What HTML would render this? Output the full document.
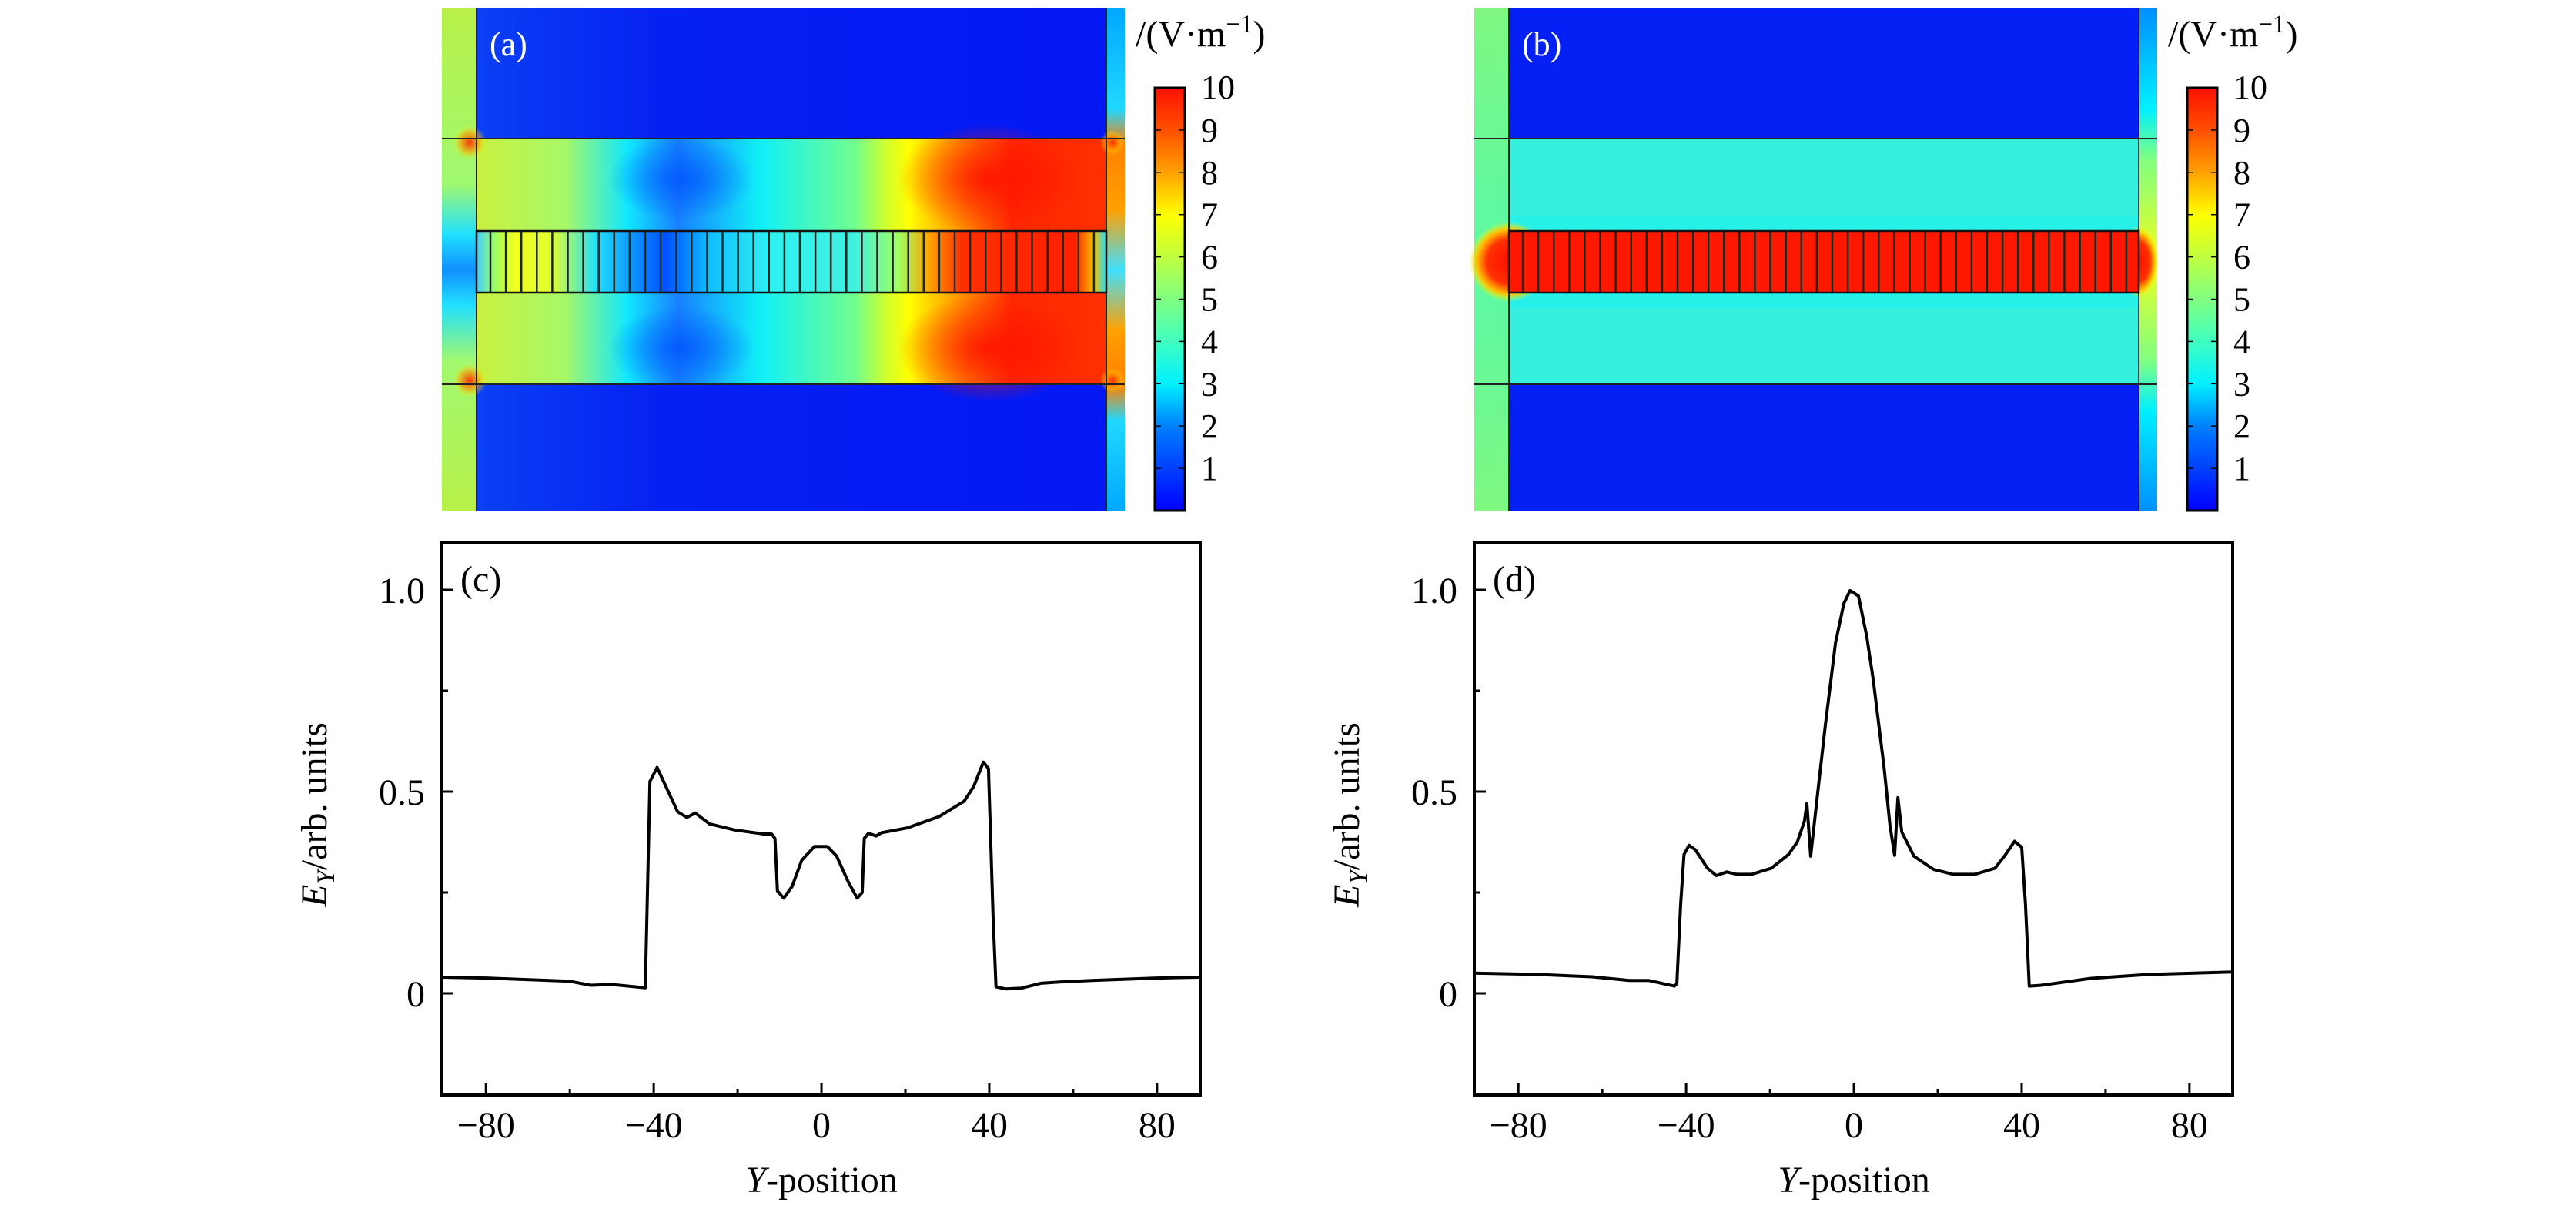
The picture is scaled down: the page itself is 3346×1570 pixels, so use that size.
<!DOCTYPE html>
<html><head><meta charset="utf-8"><style>
html,body{margin:0;padding:0;background:#fff;}
svg{display:block;font-family:"Liberation Serif",serif;}
</style></head><body>
<svg id="fig" width="3346" height="1570" viewBox="0 0 3346 1570" xmlns="http://www.w3.org/2000/svg">
<defs>
<linearGradient id="jet" x1="0" y1="1" x2="0" y2="0">
<stop offset="0" stop-color="#0000ff"/><stop offset="0.1" stop-color="#0040ff"/><stop offset="0.2" stop-color="#0080ff"/>
<stop offset="0.3" stop-color="#00f0ff"/><stop offset="0.4" stop-color="#40ffc0"/><stop offset="0.5" stop-color="#80ff80"/>
<stop offset="0.6" stop-color="#c0ff40"/><stop offset="0.7" stop-color="#ffff00"/><stop offset="0.8" stop-color="#ffa000"/>
<stop offset="0.9" stop-color="#ff5000"/><stop offset="1" stop-color="#ff1000"/></linearGradient>
<linearGradient id="blueA" x1="0" y1="0" x2="1" y2="0"><stop offset="0" stop-color="#0a40f4"/><stop offset="0.3" stop-color="#0520f2"/><stop offset="1" stop-color="#0418f4"/></linearGradient>
<linearGradient id="slabA" x1="0" y1="0" x2="1" y2="0">
<stop offset="0" stop-color="#c8f040"/><stop offset="0.14" stop-color="#a8f868"/><stop offset="0.24" stop-color="#10e8ff"/>
<stop offset="0.32" stop-color="#1880ff"/><stop offset="0.45" stop-color="#10f0f8"/><stop offset="0.6" stop-color="#70ff90"/>
<stop offset="0.65" stop-color="#d0ff30"/><stop offset="0.686" stop-color="#ffff00"/><stop offset="0.77" stop-color="#ff9000"/>
<stop offset="0.85" stop-color="#ff2800"/><stop offset="1" stop-color="#ff3000"/></linearGradient>
<linearGradient id="wgA" x1="0" y1="0" x2="1" y2="0">
<stop offset="0" stop-color="#40d0ff"/><stop offset="0.03" stop-color="#a0ff60"/><stop offset="0.06" stop-color="#f0ff20"/>
<stop offset="0.12" stop-color="#e0ff30"/><stop offset="0.19" stop-color="#20e0ff"/><stop offset="0.3" stop-color="#0050ff"/>
<stop offset="0.37" stop-color="#10c0ff"/><stop offset="0.47" stop-color="#30f0f0"/><stop offset="0.6" stop-color="#40f0e0"/>
<stop offset="0.67" stop-color="#a0ff60"/><stop offset="0.72" stop-color="#ffa000"/><stop offset="0.77" stop-color="#ff3000"/>
<stop offset="0.95" stop-color="#ff2000"/><stop offset="0.98" stop-color="#ffc000"/><stop offset="1" stop-color="#20e0ff"/></linearGradient>
<linearGradient id="stripL_A" x1="0" y1="0" x2="0" y2="1">
<stop offset="0" stop-color="#b8f048"/><stop offset="0.35" stop-color="#a0f870"/><stop offset="0.45" stop-color="#20e0ff"/>
<stop offset="0.52" stop-color="#1090ff"/><stop offset="0.59" stop-color="#20e0ff"/><stop offset="0.7" stop-color="#a0f870"/><stop offset="1" stop-color="#b8f048"/></linearGradient>
<linearGradient id="stripR_A" x1="0" y1="0" x2="0" y2="1">
<stop offset="0" stop-color="#00a8ff"/><stop offset="0.2" stop-color="#20d8ff"/><stop offset="0.27" stop-color="#ff8000"/>
<stop offset="0.4" stop-color="#ffa000"/><stop offset="0.52" stop-color="#40e0ff"/><stop offset="0.64" stop-color="#ffa000"/>
<stop offset="0.75" stop-color="#ff8000"/><stop offset="0.82" stop-color="#20d8ff"/><stop offset="1" stop-color="#00a8ff"/></linearGradient>
<linearGradient id="stripL_B" x1="0" y1="0" x2="0" y2="1">
<stop offset="0" stop-color="#80f880"/><stop offset="0.4" stop-color="#60f8a0"/><stop offset="0.6" stop-color="#60f8a0"/><stop offset="1" stop-color="#80f880"/></linearGradient>
<linearGradient id="stripR_B" x1="0" y1="0" x2="0" y2="1">
<stop offset="0" stop-color="#0090ff"/><stop offset="0.2" stop-color="#00f0ff"/><stop offset="0.3" stop-color="#80ff80"/>
<stop offset="0.5" stop-color="#f0ff20"/><stop offset="0.7" stop-color="#80ff80"/><stop offset="0.8" stop-color="#00f0ff"/><stop offset="1" stop-color="#0090ff"/></linearGradient>
<radialGradient id="blob"><stop offset="0" stop-color="#0050ff" stop-opacity="0.8"/><stop offset="1" stop-color="#0050ff" stop-opacity="0"/></radialGradient>
<radialGradient id="hot"><stop offset="0" stop-color="#ff1000"/><stop offset="0.55" stop-color="#ff3000"/><stop offset="0.8" stop-color="#ffc000"/><stop offset="1" stop-color="#ffff00" stop-opacity="0"/></radialGradient>
<radialGradient id="hot2"><stop offset="0" stop-color="#ff2000" stop-opacity="0.9"/><stop offset="0.6" stop-color="#ffa000" stop-opacity="0.6"/><stop offset="1" stop-color="#ffff00" stop-opacity="0"/></radialGradient>
<radialGradient id="redb"><stop offset="0" stop-color="#ff1000" stop-opacity="0.9"/><stop offset="1" stop-color="#ff1000" stop-opacity="0"/></radialGradient>
</defs>

<g id="heatA">
<rect x="574" y="11" width="45" height="653" fill="url(#stripL_A)"/>
<rect x="1437" y="11" width="24" height="653" fill="url(#stripR_A)"/>
<rect x="619" y="11" width="818" height="169" fill="url(#blueA)"/>
<rect x="619" y="499" width="818" height="165" fill="url(#blueA)"/>
<rect x="619" y="180" width="818" height="319" fill="url(#slabA)"/>
<ellipse cx="885" cy="232" rx="95" ry="55" fill="url(#blob)"/>
<ellipse cx="885" cy="452" rx="95" ry="55" fill="url(#blob)"/>
<ellipse cx="1285" cy="232" rx="120" ry="70" fill="url(#redb)"/>
<ellipse cx="1285" cy="452" rx="120" ry="70" fill="url(#redb)"/>
<circle cx="610" cy="185" r="22" fill="url(#hot2)"/><circle cx="610" cy="494" r="22" fill="url(#hot2)"/>
<circle cx="1445" cy="185" r="16" fill="url(#hot2)"/><circle cx="1445" cy="494" r="16" fill="url(#hot2)"/>
<rect x="619" y="300" width="818" height="80" fill="url(#wgA)"/>
<g id="stripesA"></g>
<line x1="574" y1="180" x2="1461" y2="180" stroke="#222" stroke-width="2"/>
<line x1="574" y1="499" x2="1461" y2="499" stroke="#222" stroke-width="2"/>
<line x1="619" y1="11" x2="619" y2="664" stroke="#222" stroke-width="2"/>
<line x1="1437" y1="11" x2="1437" y2="664" stroke="#222" stroke-width="2"/>
<rect x="619" y="300" width="818" height="80" fill="none" stroke="#111" stroke-width="2.5"/>
<text x="636" y="72" font-size="44" fill="#fff">(a)</text>
</g>

<g id="heatB">
<rect x="1915" y="11" width="45" height="653" fill="url(#stripL_B)"/>
<rect x="2778" y="11" width="24" height="653" fill="url(#stripR_B)"/>
<rect x="1960" y="11" width="818" height="169" fill="#0520f4"/>
<rect x="1960" y="499" width="818" height="165" fill="#0520f4"/>
<rect x="1960" y="180" width="818" height="319" fill="#34f0dc"/>
<rect x="1960" y="280" width="818" height="120" fill="#20f0f0" opacity="0.6"/>
<ellipse cx="1960" cy="340" rx="52" ry="52" fill="url(#hot)"/>
<ellipse cx="2778" cy="340" rx="26" ry="46" fill="url(#hot)"/>
<rect x="1960" y="300" width="818" height="80" fill="#ff1800"/>
<g id="stripesB"></g>
<line x1="1915" y1="180" x2="2802" y2="180" stroke="#222" stroke-width="2"/>
<line x1="1915" y1="499" x2="2802" y2="499" stroke="#222" stroke-width="2"/>
<line x1="1960" y1="11" x2="1960" y2="664" stroke="#222" stroke-width="2"/>
<line x1="2778" y1="11" x2="2778" y2="664" stroke="#222" stroke-width="2"/>
<rect x="1960" y="300" width="818" height="80" fill="none" stroke="#111" stroke-width="2.5"/>
<text x="1977" y="72" font-size="44" fill="#fff">(b)</text>
</g>

<g id="cbA"></g>
<g id="cbB"></g>
<g id="plotC"></g>
<g id="plotD"></g>
</svg>
<script>
const cbTicks = [1,2,3,4,5,6,7,8,9,10];
const xMajor = [-80,-40,0,40,80];
const xMinor = [-60,-20,20,60];
const yMajor = [0,0.5,1.0];
const yMajorLabels = ["0","0.5","1.0"];
const yMinor = [0.25,0.75];
const posC = [-90.5,-80,-60,-55,-50,-42,-40.9,-39.2,-34.3,-32.1,-30.1,-26.7,-20.7,-13.8,-11.9,-11.1,-10.5,-9,-7,-4.7,-1.7,1.4,3.6,6.4,8.5,9.7,10.2,11.2,13,14.3,20.4,28,34,36.3,38.6,39.8,40.9,41.6,43.9,47.7,52.3,56.8,64.4,80,90.3];
const valC = [0.04,0.038,0.03,0.02,0.022,0.014,0.525,0.56,0.45,0.436,0.447,0.42,0.405,0.395,0.395,0.384,0.254,0.236,0.265,0.33,0.364,0.364,0.34,0.276,0.236,0.25,0.384,0.397,0.39,0.398,0.41,0.438,0.476,0.513,0.573,0.557,0.19,0.016,0.011,0.013,0.025,0.028,0.032,0.038,0.04];
const posD = [-90.5,-75.8,-62.4,-53.6,-49,-42.8,-42.2,-41.3,-40.5,-39.3,-37.8,-34.9,-32.8,-30.3,-27.9,-24.4,-19.7,-15.6,-13.5,-11.8,-11.2,-10.3,-8.6,-6.8,-4.4,-2.4,-0.9,1.1,3.1,4.6,7.2,8.6,9.7,10.5,11.4,14.3,19,23.7,28.8,33.6,35.9,38.3,40,40.9,41.8,44.7,56.4,70.4,90.3];
const valD = [0.05,0.047,0.041,0.032,0.032,0.018,0.024,0.22,0.344,0.367,0.356,0.31,0.292,0.301,0.295,0.295,0.31,0.344,0.375,0.427,0.47,0.34,0.5,0.665,0.868,0.966,0.998,0.985,0.883,0.778,0.559,0.416,0.342,0.485,0.4,0.34,0.307,0.295,0.295,0.31,0.34,0.377,0.362,0.22,0.018,0.02,0.037,0.047,0.053];

const NS = "http://www.w3.org/2000/svg";
function mk(tag, attrs, parent){const e=document.createElementNS(NS,tag);for(const k in attrs)e.setAttribute(k,attrs[k]);parent.appendChild(e);return e;}

function stripes(id, x0, x1){
  const g=document.getElementById(id);
  for(let x=x0;x<x1;x+=20.1){
    const l=mk('line',{x1:x,y1:300,x2:x,y2:380,stroke:'#1a2a20','stroke-width':2.5},g);
    
    
  }
}
stripes('stripesA',637,1432);
stripes('stripesB',1978,2773);

function colorbar(id, x){
  const g=document.getElementById(id);
  const top=114,bot=663,w=39;
  const sy=v=>bot-(v/10)*(bot-top);
  mk('rect',{x:x,y:top,width:w,height:bot-top,fill:'url(#jet)',stroke:'#000','stroke-width':3},g);
  cbTicks.forEach(v=>{
    const y=sy(v);
    if(v<10){
      const t1=mk('line',{x1:x,y1:y,x2:x+8,y2:y,stroke:'#000','stroke-width':1.5},g);
      
      
      mk('line',{x1:x+w-8,y1:y,x2:x+w,y2:y,stroke:'#000','stroke-width':1.5},g);
    }
    const t=mk('text',{x:x+60,y:(v===10?y+14:y+15),'font-size':44},g);
    t.textContent=String(v);
    
    
  });
  const u=mk('text',{x:x-25,y:60,'font-size':48},g);
  
  
  u.innerHTML='/(V·m<tspan dy="-18" font-size="33">−1</tspan><tspan dy="18">)</tspan>';
}
colorbar('cbA',1500);
colorbar('cbB',2841);

function chart(id, L, xs, ys, label){
  const g=document.getElementById(id);
  const R=L+985, T=704, B=1422, xmin=-90.5, xmax=90.3;
  const sx=v=>L+(v-xmin)*(R-L)/(xmax-xmin);
  const sy=v=>1290-v*524;
  const frame=mk('rect',{x:L,y:T,width:R-L,height:B-T,fill:'none',stroke:'#000','stroke-width':4},g);
  
  
  xMajor.forEach(v=>{
    mk('line',{x1:sx(v),y1:B,x2:sx(v),y2:B-15,stroke:'#000','stroke-width':3},g);
    const t=mk('text',{x:sx(v),y:1477,'font-size':48,'text-anchor':'middle'},g);
    t.textContent=v<0?'−'+Math.abs(v):String(v);
    
    
  });
  xMinor.forEach(v=>mk('line',{x1:sx(v),y1:B,x2:sx(v),y2:B-8,stroke:'#000','stroke-width':3},g));
  yMajor.forEach((v,i)=>{
    mk('line',{x1:L,y1:sy(v),x2:L+15,y2:sy(v),stroke:'#000','stroke-width':3},g);
    const t=mk('text',{x:L-22,y:sy(v)+17,'font-size':48,'text-anchor':'end'},g);
    t.textContent=yMajorLabels[i];
    
    
  });
  yMinor.forEach(v=>mk('line',{x1:L,y1:sy(v),x2:L+8,y2:sy(v),stroke:'#000','stroke-width':3},g));
  const d=xs.map((x,i)=>(i?'L':'M')+sx(x).toFixed(1)+','+sy(ys[i]).toFixed(1)).join(' ');
  const p=mk('path',{d:d,fill:'none',stroke:'#000','stroke-width':4,'stroke-linejoin':'round'},g);
  
  
  const pl=mk('text',{x:L+24,y:768,'font-size':48},g);
  pl.textContent=label;
  
  
  const xt=mk('text',{x:L+493,y:1548,'font-size':48,'text-anchor':'middle'},g);
  xt.innerHTML='<tspan font-style="italic">Y</tspan>-position';
  
  
  const yt=mk('text',{x:0,y:0,'font-size':48,'text-anchor':'middle',transform:`translate(${L-150},1058) rotate(-90)`},g);
  yt.innerHTML='<tspan font-style="italic">E</tspan><tspan font-style="italic" font-size="33" dy="10">Y</tspan><tspan dy="-10">/arb. units</tspan>';
  
  
}
chart('plotC',574,posC,valC,'(c)');
chart('plotD',1915,posD,valD,'(d)');
</script>
</body></html>
